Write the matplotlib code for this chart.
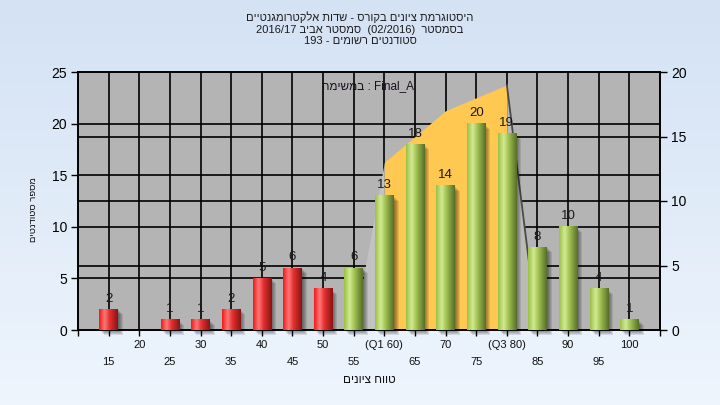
import re
import numpy as np
import matplotlib
matplotlib.use('Agg')
import matplotlib.pyplot as plt
from matplotlib.patches import Rectangle
from matplotlib import transforms
from matplotlib.colors import LinearSegmentedColormap

# data
grades = [15, 20, 25, 30, 35, 40, 45, 50, 55, 60, 65, 70, 75, 80, 85, 90, 95, 100]
grade_labels = ['15', '20', '25', '30', '35', '40', '45', '50', '55', '(Q1 60)',
                '65', '70', '75', '(Q3 80)', '85', '90', '95', '100']
counts = [2, 0, 1, 1, 2, 5, 6, 4, 6, 13, 18, 14, 20, 19, 8, 10, 4, 1]
# Q1..Q3 band (right axis)
q_band = [0, 0, 0, 0, 0, 0, 0, 0, 0, 13, 15, 17, 18, 19, 0, 0, 0, 0]
pass_grade = 55
left_ticks = [0, 5, 10, 15, 20, 25]
right_ticks = [0, 5, 10, 15, 20]

title_lines = ['היסטוגרמת ציונים בקורס - שדות אלקטרומגנטיים',
               'בסמסטר  (02/2016)  סמסטר אביב 2016/17',
               'סטודנטים רשומים - 193']
task_label = 'Final_A : במשימה'
x_title = 'טווח ציונים'
y_title = 'מספר סטודנטים'


def heb(s):
    # no bidi in matplotlib -> put hebrew in visual order, keep number/latin runs
    out = s[::-1]
    out = re.sub(r'[0-9A-Za-z_/.]+', lambda m: m.group(0)[::-1], out)
    return out.translate(str.maketrans('()', ')('))


plt.rcParams['font.family'] = ['Liberation Sans', 'DejaVu Sans']

fig = plt.figure(figsize=(7.2, 4.05), dpi=100)

# light blue background gradient
bg = fig.add_axes([0, 0, 1, 1], zorder=-10)
bg_cmap = LinearSegmentedColormap.from_list('bg', ['#eef5fd', '#d4e2f4'])
bg.imshow(np.linspace(0, 1, 100).reshape(-1, 1)[::-1], cmap=bg_cmap, aspect='auto',
          extent=[0, 1, 0, 1])
bg.axis('off')

L, B, W, H = 78 / 720., 75 / 405., 582 / 720., 258 / 405.
ax = fig.add_axes([L, B, W, H])
ax2 = ax.twinx()
ax.set_zorder(2)
ax2.set_zorder(1)
ax.patch.set_visible(False)
ax2.patch.set_visible(True)
ax2.patch.set_facecolor('#b4b4b4')

n = len(grades)
x = np.arange(n)
ax.set_ylim(0, 25)
ax2.set_ylim(0, 20)

# grid, drawn on the back axes so the band covers it
for xi in x:
    ax2.axvline(xi, color='black', lw=1.2, zorder=0)
for v in right_ticks[1:-1]:
    ax2.axhline(v, color='black', lw=1.2, zorder=0)
lt = transforms.blended_transform_factory(ax2.transAxes, ax.transData)
for v in left_ticks[1:-1]:
    ax2.plot([0, 1], [v, v], transform=lt, color='black', lw=1.2, zorder=0)

# Q1-Q3 band
band = np.array(q_band, dtype=float)
nz = np.nonzero(band)[0]
i0, i1 = nz[0], nz[-1]
ax2.fill_between(x[i0 - 1:i0 + 1], band[i0 - 1:i0 + 1], color='#c2c2c2', lw=0, zorder=1)
ax2.fill_between(x[i1:i1 + 2], band[i1:i1 + 2], color='#bababa', lw=0, zorder=1)
ax2.fill_between(x[i0:i1 + 1], band[i0:i1 + 1], color='#ffc850', lw=0, zorder=1)
ax2.plot(x[i1:i1 + 2], band[i1:i1 + 2], color='#4a4a4a', lw=1.3, zorder=2)

# bars with cylinder-like shading
red_cmap = LinearSegmentedColormap.from_list(
    'r', [(0, '#f01a1a'), (0.3, '#ff7878'), (0.55, '#e63030'), (1, '#871414')])
green_cmap = LinearSegmentedColormap.from_list(
    'g', [(0, '#9cc048'), (0.3, '#d2ea92'), (0.55, '#a2c252'), (1, '#556f29')])
grad = np.linspace(0, 1, 64).reshape(1, -1)
w = 0.6
for xi, g, c in zip(x, grades, counts):
    if c == 0:
        continue
    x0 = xi - w / 2
    for d in range(1, 6):
        tr = transforms.offset_copy(ax.transData, fig=fig, x=d, y=-d, units='dots')
        ax.add_patch(Rectangle((x0, 0), w, c, transform=tr, facecolor='black',
                               alpha=0.1, lw=0, zorder=2, clip_on=False))
    cm = red_cmap if g < pass_grade else green_cmap
    ax.imshow(grad, cmap=cm, extent=[x0, x0 + w, 0, c], aspect='auto',
              interpolation='bilinear', zorder=3)
    ax.text(xi, c + 0.45, str(c), ha='center', va='bottom', fontsize=9.5,
            color='#1a1a1a', zorder=4)

ax.set_xlim(-1, n)
ax.set_ylim(0, 25)
ax.set_aspect('auto')

ax.set_yticks(left_ticks)
ax2.set_yticks(right_ticks)
ax.set_xticks(np.arange(-1, n + 1))
ax.set_xticklabels([])
ax.tick_params(axis='x', direction='out', length=4, width=1)
ax.tick_params(axis='y', direction='out', length=5, width=1, labelsize=10, pad=3)
ax2.tick_params(axis='y', direction='out', length=5, width=1, labelsize=10, pad=3)
for a in (ax, ax2):
    for s in a.spines.values():
        s.set_color('black')
        s.set_linewidth(1.2)

# staggered category labels
xt = transforms.blended_transform_factory(ax.transData, ax.transAxes)
for xi, lab in zip(x, grade_labels):
    yy = -0.058 if xi % 2 else -0.124
    ax.text(xi, yy, lab, transform=xt, ha='center', va='center', fontsize=8,
            color='#111111')

ax.text(0.5, -0.194, heb(x_title), transform=ax.transAxes, ha='center',
        va='center', fontsize=8.5, color='#111111')
fig.text(33 / 720., 1 - 210 / 405., heb(y_title), rotation=90, ha='center',
         va='center', fontsize=6.8, color='#111111')
fig.text(368 / 720., 1 - 86 / 405., heb(task_label), ha='center', va='center',
         fontsize=8.5, color='#1a1020', zorder=5)

for t, yy in zip(title_lines, [17, 30, 41]):
    fig.text(360 / 720., 1 - yy / 405., heb(t), ha='center', va='center',
             fontsize=8, color='#1c1c1c')

plt.savefig('out.png', dpi=100)
